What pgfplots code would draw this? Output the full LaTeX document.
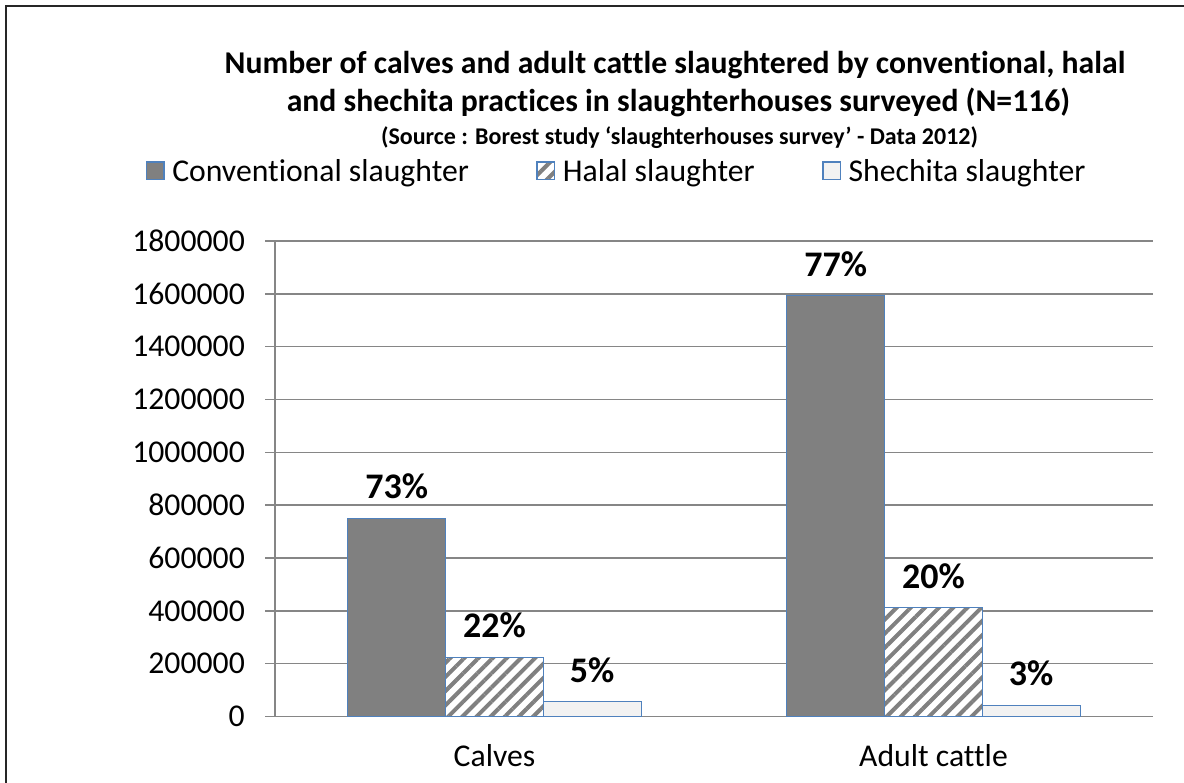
\documentclass[border=0pt]{standalone}
\usepackage{fontspec}
\setmainfont{Carlito}[Ligatures={NoCommon}]
\usepackage{pgfplots}
\pgfplotsset{compat=1.18}
\usetikzlibrary{patterns.meta}
\definecolor{edgeblue}{RGB}{79,129,189}
\definecolor{convgray}{RGB}{128,128,128}
\definecolor{shefill}{RGB}{242,242,242}
\definecolor{gridgray}{RGB}{134,134,134}
\newcommand{\tickfont}{\fontsize{31.7}{38}\selectfont}
\newcommand{\labelfont}{\fontsize{36}{43}\selectfont\bfseries}
\newcommand{\titlefont}{\fontsize{31.7}{38}\selectfont\bfseries}
\newcommand{\subfont}{\fontsize{24}{29}\selectfont\bfseries}
\pgfplotsset{
  sqlegend/.style={legend image code/.code={\draw[##1, draw=edgeblue, line width=1.5pt] (0.75pt,-8.75pt) rectangle (18.25pt,8.75pt); \path (0pt,0pt) (22pt,0pt);}},
  mybar/.style={ybar, bar width=97.7pt, draw=edgeblue, line width=1pt, sqlegend,
    nodes near coords={\pgfplotspointmeta\%}, point meta=explicit symbolic,
    every node near coord/.append style={font=\labelfont, text=black, anchor=center, yshift=32pt, inner sep=0pt}},
}
\begin{document}
\begin{tikzpicture}[x=1pt,y=1pt]
\useasboundingbox (0,0) rectangle (1184,783);
\fill[white] (0,0) rectangle (1184,783);
\draw[line width=2pt, black!85] (6,-20) -- (6,777) -- (1200,777);
\node[font=\titlefont, anchor=base, inner sep=0pt] at (675,709.7) {Number of calves and adult cattle slaughtered by conventional, halal};
\node[font=\titlefont, anchor=base, inner sep=0pt] at (678.5,671.3) {and shechita practices in slaughterhouses surveyed (N=116)};
\node[font=\subfont, anchor=base, inner sep=0pt] at (679.5,638) {(Source : Borest study ‘slaughterhouses survey’ - Data 2012)};
\begin{axis}[
  at={(275pt,66.5pt)}, anchor=south west,
  scale only axis, width=878pt, height=475.5pt,
  xmin=-0.5, xmax=1.5, ymin=0, ymax=1800000,
  ytick={0,200000,400000,600000,800000,1000000,1200000,1400000,1600000,1800000},
  xtick={0,1}, xticklabels={Calves, Adult cattle},
  scaled y ticks=false,
  yticklabel style={/pgf/number format/fixed, /pgf/number format/1000 sep={},
    /pgf/number format/assume math mode=true, font=\tickfont, inner sep=0pt, xshift=-20pt},
  xticklabel style={font=\tickfont, anchor=base, inner sep=0pt, yshift=-40.5pt},
  axis x line*=bottom, axis y line*=left,
  axis line style={-, gridgray, line width=1.5pt},
  ymajorgrids, grid style={gridgray, line width=1.5pt},
  tick align=outside, major tick length=10pt,
  ytick style={gridgray, line width=1.5pt},
  xtick style={draw=none},
  clip=false,
  legend style={draw=none, fill=none, at={(-0.1480,1.1472)}, anchor=west,
    legend columns=-1, inner sep=0pt, nodes={inner sep=4pt, font=\tickfont},
    /tikz/every even column/.append style={column sep=63pt}},
]
\addplot[mybar, bar shift=-97.7pt, fill=convgray,
  every node near coord/.append style={xshift=-97.7pt}] table[meta=label] {
x y label
0 750000 73
1 1592000 77
};
\addlegendentry{Conventional slaughter}
\addplot[mybar, bar shift=0pt, fill=white, postaction={pattern={Lines[angle=45,distance=10pt,line width=4pt]}, pattern color=convgray}] table[meta=label] {
x y label
0 224000 22
1 411000 20
};
\addlegendentry{Halal slaughter}
\addplot[mybar, bar shift=97.7pt, fill=shefill,
  every node near coord/.append style={xshift=97.7pt}] table[meta=label] {
x y label
0 55000 5
1 42000 3
};
\addlegendentry{Shechita slaughter}
\end{axis}
\end{tikzpicture}
\end{document}
